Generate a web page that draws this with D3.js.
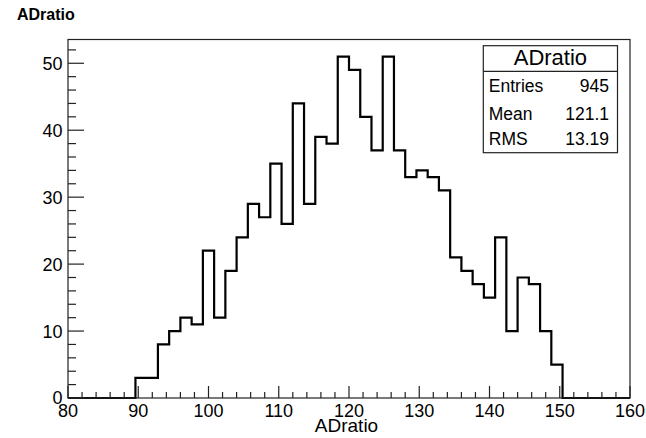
<!DOCTYPE html>
<html>
<head>
<meta charset="utf-8">
<script src="https://cdn.jsdelivr.net/npm/d3@7"></script>
<style>
  html, body { margin: 0; padding: 0; background: #fff; }
  svg { display: block; }
  text { font-family: "Liberation Sans", Arial, Helvetica, sans-serif; fill: #000; }
</style>
</head>
<body>
<svg id="chart" width="646" height="438"></svg>
<script>
// ---- data ----
const histTitle = "ADratio";
const xAxisTitle = "ADratio";
const xMin = 80, xMax = 160, nBins = 50;
// bin contents (50 bins of width 1.6 from 80 to 160)
const counts = [0,0,0,0,0,0,
  3,3,8,10,12,11,22,12,19,24,29,27,35,26,44,29,39,38,51,49,42,37,51,37,
  33,34,33,31,21,19,17,15,24,10,18,17,10,5,
  0,0,0,0,0,0];
const xTicks = [80, 90, 100, 110, 120, 130, 140, 150, 160];
const yTicks = [0, 10, 20, 30, 40, 50];
const statLabels = ["Entries", "Mean", "RMS"];
const statValues = ["945", "121.1", "13.19"];
const yMax = 53.55;

// ---- layout ----
const svg = d3.select("#chart");
const L = 68, R = 630, T = 39.5, B = 398;
const x = d3.scaleLinear().domain([xMin, xMax]).range([L, R]);
const y = d3.scaleLinear().domain([0, yMax]).range([B, T]);
const binW = (xMax - xMin) / nBins;

// title
svg.append("text").attr("x", 17).attr("y", 19.5)
  .attr("font-size", 16).attr("font-weight", "bold").text(histTitle);

// histogram outline
const pts = [];
counts.forEach((c, i) => {
  const x0 = xMin + i * binW, x1 = x0 + binW;
  pts.push([x(x0), y(c)]);
  pts.push([x(x1), y(c)]);
});
svg.append("path")
  .attr("d", d3.line()(pts))
  .attr("fill", "none").attr("stroke", "#000").attr("stroke-width", 2.2)
  .attr("stroke-linejoin", "miter");

// frame
svg.append("rect").attr("x", L).attr("y", T).attr("width", R - L).attr("height", B - T)
  .attr("fill", "none").attr("stroke", "#222").attr("stroke-width", 1.2);

// ticks
const g = svg.append("g").attr("stroke", "#222").attr("stroke-width", 1.2);
d3.range(0, yMax, 2).forEach(v => {
  const major = v % 10 === 0;
  g.append("line").attr("x1", L).attr("x2", L + (major ? 16 : 8))
    .attr("y1", y(v)).attr("y2", y(v));
});
d3.range(xMin, xMax + 0.001, 2).forEach(v => {
  const major = v % 10 === 0;
  g.append("line").attr("x1", x(v)).attr("x2", x(v))
    .attr("y1", B).attr("y2", B - (major ? 12 : 6));
});

// y tick labels
svg.append("g").selectAll("text").data(yTicks).join("text")
  .attr("x", 62.5).attr("y", d => y(d)).attr("dy", "0.36em")
  .attr("text-anchor", "end").attr("font-size", 18).text(d => d);

// x tick labels
svg.append("g").selectAll("text").data(xTicks).join("text")
  .attr("x", d => x(d)).attr("y", 417)
  .attr("text-anchor", "middle").attr("font-size", 18).text(d => d);

// x axis title
svg.append("text").attr("x", x(120) - 2.5).attr("y", 432)
  .attr("text-anchor", "middle").attr("font-size", 19).text(xAxisTitle);

// stats box
const sx0 = 483.3, sx1 = 617.5, sy0 = 45.7, sy1 = 152.7, sDiv = 71.3;
svg.append("rect").attr("x", sx0).attr("y", sy0).attr("width", sx1 - sx0).attr("height", sy1 - sy0)
  .attr("fill", "#fff").attr("stroke", "#222").attr("stroke-width", 1.2);
svg.append("line").attr("x1", sx0).attr("x2", sx1).attr("y1", sDiv).attr("y2", sDiv)
  .attr("stroke", "#222").attr("stroke-width", 1.2);
svg.append("text").attr("x", (sx0 + sx1) / 2).attr("y", 65)
  .attr("text-anchor", "middle").attr("font-size", 22).text(histTitle);
const rowY = [92, 120, 145];
statLabels.forEach((lab, i) => {
  svg.append("text").attr("x", sx0 + 5.5).attr("y", rowY[i]).attr("font-size", 17.5).text(lab);
  svg.append("text").attr("x", sx1 - 8.5).attr("y", rowY[i]).attr("text-anchor", "end")
    .attr("font-size", 17.5).text(statValues[i]);
});
</script>
</body>
</html>
